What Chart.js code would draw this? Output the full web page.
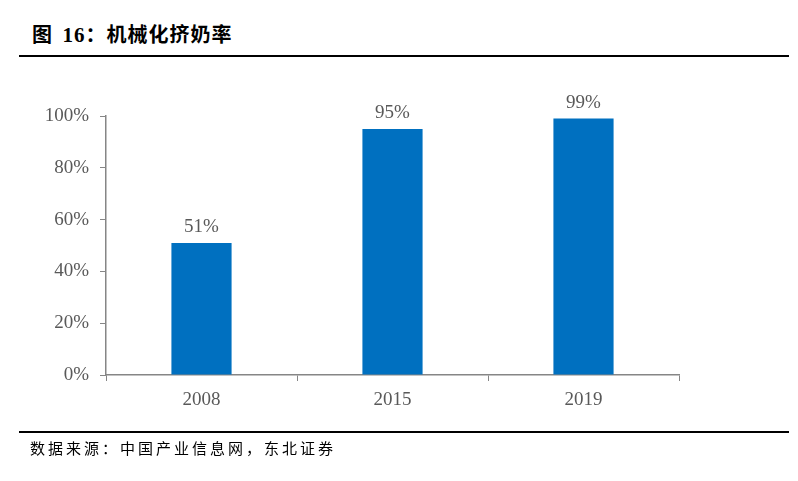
<!DOCTYPE html>
<html>
<head>
<meta charset="utf-8">
<script src="https://cdn.jsdelivr.net/npm/chart.js@4"></script>
<style>
    body { margin: 0; background: #fff; }
    #wrap { position: relative; width: 798px; height: 481px; overflow: hidden; }
    #title {
        position: absolute; left: 32px; top: 19px;
        font-family: "Noto Sans CJK SC", sans-serif; font-weight: bold;
        font-size: 20px; letter-spacing: 1px; color: #000; white-space: nowrap;
    }
    #title .num { font-family: "Liberation Serif", serif; font-size: 21px; margin-left: 4px; }
    .rule { position: absolute; left: 19px; width: 770px; height: 2px; background: #000; }
    #source {
        position: absolute; left: 30px; top: 437px;
        font-family: "Noto Sans CJK SC", sans-serif; font-size: 15px;
        letter-spacing: 3px; color: #000; white-space: nowrap;
    }
    #chart-box { position: absolute; left: 0; top: 0; width: 798px; height: 481px; }
</style>
</head>
<body>
<div id="wrap">
    <div id="title">图 <span class="num">16</span>：机械化挤奶率</div>
    <div class="rule" style="top:55px"></div>
    <div id="chart-box"><canvas id="chart"></canvas></div>
    <div class="rule" style="top:431px"></div>
    <div id="source">数据来源：中国产业信息网，东北证券</div>
</div>
<script>
// Datos del gráfico
const years = ['2008', '2015', '2019'];
const rates = [51, 95, 99];
const yTicks = [0, 20, 40, 60, 80, 100];

// Etiquetas encima de cada barra
const barLabels = {
    id: 'barLabels',
    afterDatasetsDraw(chart) {
        const ctx = chart.ctx;
        const meta = chart.getDatasetMeta(0);
        ctx.save();
        ctx.font = '19px "Liberation Serif", serif';
        ctx.fillStyle = '#595959';
        ctx.textAlign = 'center';
        ctx.textBaseline = 'alphabetic';
        meta.data.forEach((bar, i) => {
            ctx.fillText(rates[i] + '%', bar.x, bar.y - 11);
        });
        ctx.restore();
    }
};

const ctx = document.getElementById('chart').getContext('2d');
new Chart(ctx, {
    type: 'bar',
    data: {
        labels: years,
        datasets: [{
            data: rates,
            backgroundColor: '#0070C0',
            barPercentage: 0.63,
            categoryPercentage: 0.5
        }]
    },
    options: {
        responsive: true,
        maintainAspectRatio: false,
        animation: false,
        events: [],
        layout: { padding: { left: 30, right: 119, top: 116, bottom: 66 } },
        plugins: { legend: { display: false }, tooltip: { enabled: false } },
        scales: {
            x: {
                grid: {
                    offset: true,
                    drawOnChartArea: false,
                    tickLength: 6,
                    color: '#868686'
                },
                border: { color: '#868686', width: 1.5 },
                ticks: {
                    color: '#595959',
                    font: { family: '"Liberation Serif", serif', size: 19 },
                    padding: 8
                },
                afterFit(s) { s.height = 40; }
            },
            y: {
                min: 0,
                max: 100,
                afterBuildTicks(s) { s.ticks = yTicks.map(v => ({ value: v })); },
                grid: {
                    drawOnChartArea: false,
                    tickLength: 6,
                    color: '#868686'
                },
                border: { color: '#868686', width: 1.5 },
                ticks: {
                    color: '#595959',
                    font: { family: '"Liberation Serif", serif', size: 19 },
                    padding: 11,
                    callback: v => v + '%'
                },
                afterFit(s) { s.width = 76; }
            }
        }
    },
    plugins: [barLabels]
});
</script>
</body>
</html>
